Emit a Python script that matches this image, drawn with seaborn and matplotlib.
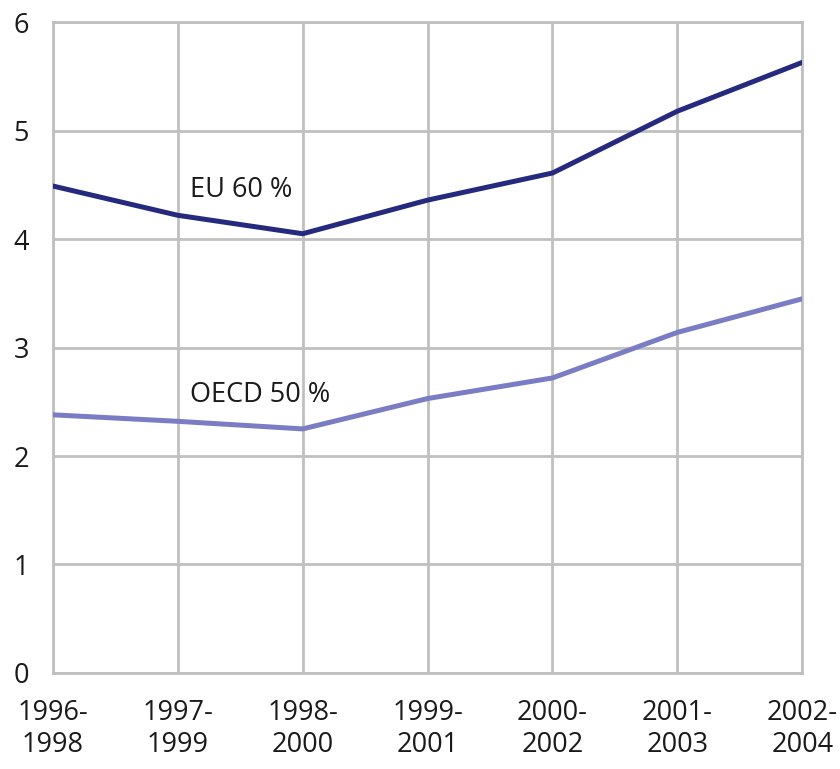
import pandas as pd
import seaborn as sns
import matplotlib.pyplot as plt

periods = ["1996-\n1998", "1997-\n1999", "1998-\n2000", "1999-\n2001",
           "2000-\n2002", "2001-\n2003", "2002-\n2004"]
eu_60 = [4.49, 4.22, 4.05, 4.36, 4.61, 5.18, 5.63]
oecd_50 = [2.38, 2.32, 2.25, 2.53, 2.72, 3.14, 3.45]

df = pd.DataFrame({
    "pos": list(range(len(periods))) * 2,
    "value": eu_60 + oecd_50,
    "series": ["EU 60 %"] * len(periods) + ["OECD 50 %"] * len(periods),
})

sns.set_theme(style="white")
plt.rcParams["font.family"] = ["Open Sans", "DejaVu Sans"]
grid_col = "#c0c0c0"

fig = plt.figure(figsize=(8.4, 7.69), dpi=100)
ax = fig.add_axes([0.063, 0.125, 0.892, 0.846])

sns.lineplot(data=df, x="pos", y="value", hue="series",
             palette={"EU 60 %": "#262a7e", "OECD 50 %": "#7b7dc4"},
             linewidth=3.6, legend=False, ax=ax, zorder=3)

ax.set_xlim(0, len(periods) - 1)
ax.set_ylim(0, 6)
ax.set_xticks(range(len(periods)))
ax.set_xticklabels(periods)
ax.set_yticks(range(0, 7))
ax.grid(True, color=grid_col, linewidth=2)
ax.set_axisbelow(True)
for s in ax.spines.values():
    s.set_color(grid_col)
    s.set_linewidth(2)
ax.tick_params(axis="both", colors=grid_col, labelcolor="#1a1a1a",
               labelsize=19.5, width=2)
ax.tick_params(axis="x", length=12, pad=7)
ax.tick_params(axis="y", length=10, pad=7)
ax.set_xlabel("")
ax.set_ylabel("")

ax.text(1.1, 4.45, "EU 60 %", fontsize=19.5, color="#1a1a1a", va="center", ha="left")
ax.text(1.1, 2.56, "OECD 50 %", fontsize=19.5, color="#1a1a1a", va="center", ha="left")

for lbl in ax.get_xticklabels():
    lbl.set_linespacing(1.2)

fig.savefig("out.png", dpi=100)
